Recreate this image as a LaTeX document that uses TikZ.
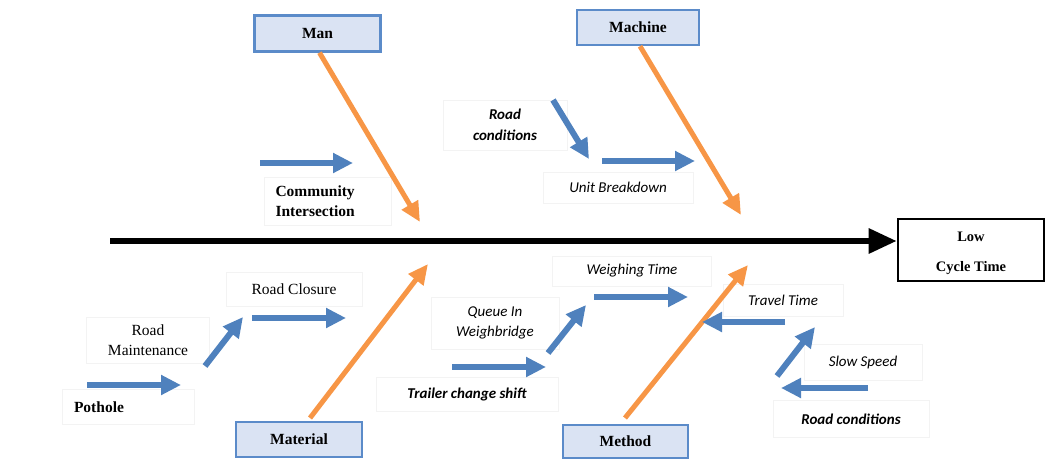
\documentclass[tikz,border=0pt]{standalone}
\usepackage{fontspec}
\setmainfont{Liberation Serif}
\newfontfamily\calfont{Carlito}
\usetikzlibrary{arrows.meta}
\definecolor{arrblue}{HTML}{4F81BD}
\definecolor{arrorange}{HTML}{F79646}
\definecolor{boxfill}{HTML}{DAE3F3}
\definecolor{boxline}{HTML}{5B8BC9}
\definecolor{faint}{HTML}{F3F3F3}
\begin{document}
\begin{tikzpicture}[x=1pt,y=-1pt,
  catbox/.style={draw=boxline, line width=2.4pt, fill=boxfill, inner sep=0pt,
    font=\fontsize{15.5}{16}\selectfont\bfseries},
  lbl/.style={draw=faint, line width=0.8pt, inner sep=0pt, align=center},
  serifb/.style={font=\fontsize{15.5}{20.5}\selectfont\bfseries},
  serifr/.style={font=\fontsize{15.5}{20.5}\selectfont},
  calbi/.style={font=\calfont\fontsize{15}{20.5}\selectfont\bfseries\itshape},
  cali/.style={font=\calfont\fontsize{15}{20.5}\selectfont\itshape},
  bluearr/.style={draw=arrblue, line width=6pt, -{Triangle[length=20pt,width=19pt]}},
  orangearr/.style={draw=arrorange, line width=5pt, -{Triangle[length=20pt,width=18pt]}},
  spinearr/.style={draw=black, line width=6pt, -{Triangle[length=28pt,width=24pt]}}
]
\useasboundingbox (0,0) rectangle (1046,459);

% effect box
\node[draw=black, line width=2.6pt, minimum width=146pt, minimum height=62pt, inner sep=0pt] (lct) at (971,250) {};
\node[align=center, font=\fontsize{14.5}{30}\selectfont\bfseries] (lcttext) at (971,253) {Low\\Cycle Time};

% category boxes
\node[catbox, minimum width=126pt, minimum height=36pt] (man) at (317.5,33.5) {Man};
\node[catbox, minimum width=122pt, minimum height=35pt] (machine) at (638,27.5) {Machine};
\node[catbox, minimum width=126pt, minimum height=35pt] (material) at (299,439.5) {Material};
\node[catbox, minimum width=125pt, minimum height=33pt] (method) at (625.5,441.5) {Method};

% spine
\coordinate (spinestart) at (110,241);
\draw[spinearr] (spinestart) -- (lct.west |- spinestart);

% label nodes
\node[lbl, serifb, minimum width=127pt, minimum height=48pt, text width=105pt, align=left] (comm) at (328,201) {Community\\Intersection};
\node[lbl, calbi, minimum width=124pt, minimum height=50pt] (rcone) at (505,125) {Road\\conditions};
\node[lbl, cali, minimum width=150pt, minimum height=31pt] (ub) at (618,187.5) {Unit Breakdown};

\node[lbl, serifb, minimum width=132pt, minimum height=35pt, text width=108pt, align=left] (pothole) at (128,407) {Pothole};
\node[lbl, serifr, minimum width=123pt, minimum height=46pt] (rm) at (148,340) {Road\\Maintenance};
\node[lbl, serifr, minimum width=136pt, minimum height=34pt] (rcl) at (294,289) {Road Closure};
\node[lbl, cali, minimum width=128pt, minimum height=52pt] (queue) at (495,323) {Queue In\\Weighbridge};
\node[lbl, calbi, minimum width=182pt, minimum height=34pt] (trailer) at (467,394) {Trailer change shift};
\node[lbl, cali, minimum width=159pt, minimum height=30pt] (wt) at (632,271) {Weighing Time};
\node[lbl, cali, minimum width=120pt, minimum height=32pt] (tt) at (783,300) {Travel Time};
\node[lbl, cali, minimum width=118pt, minimum height=36pt] (ss) at (863,362) {Slow Speed};
\node[lbl, calbi, minimum width=156pt, minimum height=37pt] (rctwo) at (851,419) {Road conditions};

% orange category arrows
\coordinate (manend) at (420,222);
\coordinate (machineend) at (741,215);
\coordinate (materialstart) at (310,418);
\coordinate (materialend) at (428,264);
\coordinate (methodstart) at (625,418);
\coordinate (methodend) at (748,265);
\draw[orangearr] ([xshift=2pt]man.south) -- (manend);
\draw[orangearr] ([xshift=2pt]machine.south) -- (machineend);
\draw[orangearr] (materialstart) -- (materialend);
\draw[orangearr] (methodstart) -- (methodend);

% blue cause arrows
\coordinate (a1s) at (260,163); \coordinate (a1e) at (353,163);
\draw[bluearr] (a1s) -- (a1e);
\coordinate (a2s) at (553,100); \coordinate (a2e) at (589,159);
\draw[bluearr] (a2s) -- (a2e);
\coordinate (a3s) at (602,161); \coordinate (a3e) at (695,161);
\draw[bluearr] (a3s) -- (a3e);

\coordinate (b1s) at (87,385); \coordinate (b1e) at (181,385);
\draw[bluearr] (b1s) -- (b1e);
\coordinate (b2s) at (205,366); \coordinate (b2e) at (243,317);
\draw[bluearr] (b2s) -- (b2e);
\coordinate (b3s) at (252,318); \coordinate (b3e) at (346,318);
\draw[bluearr] (b3s) -- (b3e);

\coordinate (c1s) at (452,367); \coordinate (c1e) at (546,367);
\draw[bluearr] (c1s) -- (c1e);
\coordinate (c2s) at (548,353); \coordinate (c2e) at (586,305);
\draw[bluearr] (c2s) -- (c2e);
\coordinate (c3s) at (594,297); \coordinate (c3e) at (688,297);
\draw[bluearr] (c3s) -- (c3e);

\coordinate (d1s) at (785,322); \coordinate (d1e) at (702,322);
\draw[bluearr] (d1s) -- (d1e);
\coordinate (d2s) at (777,376); \coordinate (d2e) at (815,327);
\draw[bluearr] (d2s) -- (d2e);
\coordinate (d3s) at (868,388); \coordinate (d3e) at (781,388);
\draw[bluearr] (d3s) -- (d3e);
\end{tikzpicture}
\end{document}
